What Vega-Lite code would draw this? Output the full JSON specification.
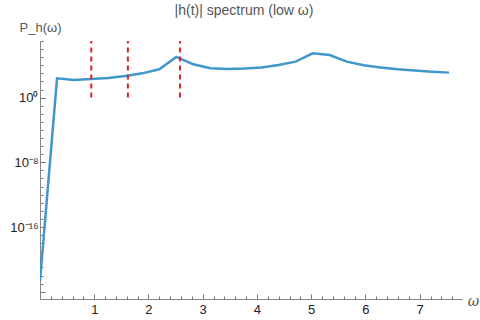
{
  "$schema": "https://vega.github.io/schema/vega-lite/v6.json",
  "width": 422,
  "height": 258,
  "autosize": {"type": "none"},
  "padding": {"left": 40, "top": 41, "right": 18, "bottom": 21},
  "background": "white",
  "config": {
    "view": {"stroke": null},
    "font": "Liberation Sans"
  },
  "title": {
    "text": "|h(t)| spectrum (low ω)",
    "fontSize": 14,
    "fontWeight": "normal",
    "color": "#555555",
    "anchor": "middle",
    "dx": -7,
    "offset": 3
  },
  "datasets": {
    "spec": [
      {"w": 0.0, "p": 2.0e-23},
      {"w": 0.314, "p": 245},
      {"w": 0.628, "p": 151},
      {"w": 0.942, "p": 200},
      {"w": 1.257, "p": 269},
      {"w": 1.571, "p": 468},
      {"w": 1.885, "p": 1000},
      {"w": 2.199, "p": 3162},
      {"w": 2.513, "p": 107150},
      {"w": 2.827, "p": 13183},
      {"w": 3.142, "p": 4266},
      {"w": 3.456, "p": 3467},
      {"w": 3.770, "p": 3981},
      {"w": 4.084, "p": 5129},
      {"w": 4.398, "p": 10965},
      {"w": 4.712, "p": 28184},
      {"w": 5.027, "p": 302000},
      {"w": 5.341, "p": 186200},
      {"w": 5.655, "p": 28184},
      {"w": 5.969, "p": 10000},
      {"w": 6.283, "p": 5129},
      {"w": 6.597, "p": 3162},
      {"w": 6.912, "p": 2188},
      {"w": 7.226, "p": 1585},
      {"w": 7.540, "p": 1230}
    ],
    "marks": [
      {"w": 0.945, "lo": 1, "hi": 1e7},
      {"w": 1.62, "lo": 1, "hi": 1e7},
      {"w": 2.58, "lo": 1, "hi": 1e7}
    ]
  },
  "layer": [
    {
      "data": {"name": "spec"},
      "mark": {"type": "line", "color": "#3f97cb", "strokeWidth": 2.5, "clip": true},
      "encoding": {
        "x": {
          "field": "w",
          "type": "quantitative",
          "scale": {"domain": [0, 7.78], "nice": false, "zero": false},
          "axis": {
            "title": "ω",
            "titleFontStyle": "italic",
            "titleFont": "DejaVu Serif",
            "titleFontSize": 14,
            "titleFontWeight": "normal",
            "titleColor": "#555555",
            "titleX": 433,
            "titleY": 2,
            "titleAlign": "center",
            "titleBaseline": "middle",
            "grid": false,
            "domainColor": "#888888",
            "tickColor": "#777777",
            "tickCount": 200,
            "values": [0,0.2,0.4,0.6,0.8,1,1.2,1.4,1.6,1.8,2,2.2,2.4,2.6,2.8,3,3.2,3.4,3.6,3.8,4,4.2,4.4,4.6,4.8,5,5.2,5.4,5.6,5.8,6,6.2,6.4,6.6,6.8,7,7.2,7.4,7.6],
            "tickSize": {"condition": {"test": "datum.value == round(datum.value)", "value": -5}, "value": -3},
            "labelExpr": "datum.value >= 1 && datum.value == round(datum.value) ? format(datum.value, 'd') : ''",
            "labelFontSize": 13,
            "labelColor": "#222222",
            "labelPadding": 9,
            "labelFlush": false,
            "labelOverlap": false
          }
        },
        "y": {
          "field": "p",
          "type": "quantitative",
          "scale": {"type": "log", "domain": [1.26e-25, 1e7], "nice": false},
          "axis": {
            "title": "P_h(ω)",
            "titleAngle": 0,
            "titleFontSize": 13,
            "titleFontWeight": "normal",
            "titleColor": "#555555",
            "titleX": 0,
            "titleY": -10,
            "titleAlign": "center",
            "titleBaseline": "alphabetic",
            "grid": false,
            "domainColor": "#888888",
            "tickColor": "#777777",
            "tickCount": 200,
            "values": [1e-24,1e-23,1e-22,1e-21,1e-20,1e-19,1e-18,1e-17,1e-16,1e-15,1e-14,1e-13,1e-12,1e-11,1e-10,1e-9,1e-8,1e-7,1e-6,1e-5,1e-4,1e-3,1e-2,1e-1,1,10,100,1000,1e4,1e5,1e6,1e7],
            "tickSize": {"condition": {"test": "indexof([0,-8,-16,-24], round(log(datum.value)/LN10)) >= 0", "value": -5}, "value": -3},
            "labelExpr": "round(log(datum.value)/LN10) == 0 ? '10⁰' : round(log(datum.value)/LN10) == -8 ? '10⁻⁸' : round(log(datum.value)/LN10) == -16 ? '10⁻¹⁶' : ''",
            "labelFontSize": 13,
            "labelColor": "#222222",
            "labelPadding": 7,
            "labelOverlap": false,
            "labelFlush": false
          }
        }
      }
    },
    {
      "data": {"name": "marks"},
      "mark": {"type": "rule", "color": "#e3202a", "strokeWidth": 2, "strokeDash": [5, 4]},
      "encoding": {
        "x": {"field": "w", "type": "quantitative"},
        "y": {"field": "lo", "type": "quantitative"},
        "y2": {"field": "hi"}
      }
    }
  ]
}
